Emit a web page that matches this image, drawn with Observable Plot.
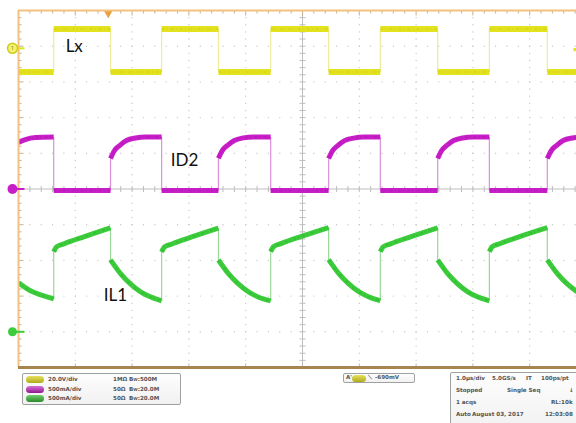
<!DOCTYPE html>
<html><head><meta charset="utf-8">
<script src="https://cdn.jsdelivr.net/npm/d3@7"></script>
<script src="https://cdn.jsdelivr.net/npm/@observablehq/plot@0.6"></script>
<style>
html,body{margin:0;padding:0;background:#fff;}
body{width:576px;height:423px;overflow:hidden;position:relative;font-family:"DejaVu Sans",sans-serif;}
#chart{position:absolute;left:0;top:0;}
.box{position:absolute;border:1px solid #a0a0a0;border-radius:2px;background:linear-gradient(#fdfdfd,#f1f1f1);}
.t{position:absolute;font-size:5.6px;color:#555;white-space:nowrap;font-weight:bold;line-height:7px;}
.pill{position:absolute;width:18px;height:7px;border-radius:4px;}
</style></head><body>
<div id="chart"></div>
<div id="info"></div>
<script>
// ---- channel setup ----
const channelNames = ["Lx", "ID2", "IL1"];
const channelColors = ["#e2e21e", "#c81ec8", "#3ccc3c"];
const textureColors = ["#c4c410", "#a010a0", "#26a626"];
const edgeColors = ["#ecec9a", "#dc90dc", "#9ad89a"];
const unitsPerDiv = [20, 500, 500];      // V/div, mA/div, mA/div
const zeroDiv = [3.94, 0, -4.0];         // ground marker position (divisions)

// ---- Lx (V) vs time (µs) ----
const lxTime = [-5.00,-4.38, -4.38,-3.38, -3.38,-2.48, -2.48,-1.48, -1.48,-0.56, -0.56,0.46, 0.46,1.37, 1.37,2.38, 2.38,3.29, 3.29,4.31, 4.31,5.00];
const lxVolt = [-13.2,-13.2, 10.9,10.9, -13.2,-13.2, 10.9,10.9, -13.2,-13.2, 10.9,10.9, -13.2,-13.2, 10.9,10.9, -13.2,-13.2, 10.9,10.9, -13.2,-13.2];

// ---- ID2 (mA) vs time (µs) ----
const id2Time = [-5.00,-4.88,-4.70,-4.38, -4.38,-3.38,
  -3.38,-3.31,-3.22,-3.10,-2.94,-2.76,-2.48, -2.48,-1.48,
  -1.48,-1.41,-1.32,-1.20,-1.04,-0.86,-0.56, -0.56,0.46,
  0.46,0.53,0.62,0.74,0.90,1.08,1.37, 1.37,2.38,
  2.38,2.45,2.54,2.66,2.82,3.00,3.29, 3.29,4.31,
  4.31,4.38,4.47,4.59,4.75,4.93,5.00];
const id2Curr = [651,693,721,728, -21,-21,
  427,539,609,679,714,728,728, -21,-21,
  430,540,612,680,716,730,730, -21,-21,
  427,537,608,678,713,727,727, -21,-21,
  428,539,610,679,715,729,729, -21,-21,
  427,538,609,679,714,728,728];

// ---- IL1 (mA) vs time (µs) ----
const il1Time = [-5.00,-4.79,-4.61,-4.38,
  -4.38,-4.33,-4.20,-3.85,-3.38,
  -3.38,-3.20,-3.03,-2.85,-2.68,-2.48,
  -2.48,-2.43,-2.30,-1.95,-1.48,
  -1.48,-1.30,-1.13,-0.95,-0.78,-0.56,
  -0.56,-0.51,-0.38,-0.03,0.46,
  0.46,0.64,0.81,0.99,1.16,1.37,
  1.37,1.42,1.55,1.90,2.38,
  2.38,2.56,2.73,2.91,3.08,3.29,
  3.29,3.34,3.47,3.82,4.31,
  4.31,4.49,4.66,4.84,5.00];
const il1Curr = [686,574,518,462,
  1120,1190,1232,1331,1457,
  1008,812,672,560,490,434,
  1118,1188,1230,1328,1452,
  1005,810,670,558,488,432,
  1122,1192,1234,1333,1460,
  1010,814,674,562,492,436,
  1120,1190,1232,1330,1456,
  1008,812,672,560,490,434,
  1121,1191,1233,1332,1458,
  1008,812,672,560,500];

// ---- on-screen labels ----
const labelText = ["Lx", "ID2", "IL1"];
const labelTime = [-4.17, -2.32, -3.50];
const labelDiv = [3.99, 0.80, -2.98];

// ---- scope screen ----
const divisions = [-5,-4,-3,-2,-1,0,1,2,3,4,5];
const minorStep = 0.2;
const triggerTime = -3.42;
const triggerLevel = -690; // mV on channel 1

const toDiv = (v, ch) => v / unitsPerDiv[ch] + zeroDiv[ch];
function build(times, values, ch) {
  const pts = [], edges = [];
  let seg = 0;
  for (let i = 0; i < times.length; i++) {
    if (i > 0 && times[i] === times[i-1]) {
      edges.push({t: times[i], d1: toDiv(values[i-1], ch), d2: toDiv(values[i], ch)});
      seg++;
    }
    pts.push({t: times[i], d: toDiv(values[i], ch), seg});
  }
  return {pts, edges};
}
const traces = [build(lxTime, lxVolt, 0), build(id2Time, id2Curr, 1), build(il1Time, il1Curr, 2)];

const minor = d3.range(-5, 5.0001, minorStep).map(v => +v.toFixed(2));
const gridDots = [];
for (const gx of divisions.filter(v => v !== 0 && Math.abs(v) !== 5))
  for (const m of minor) gridDots.push({x: gx, y: m});
for (const gy of divisions.filter(v => v !== 0 && Math.abs(v) !== 5))
  for (const m of minor) gridDots.push({x: m, y: gy});

const pxX = 56.8, pxY = 35.7;
const traceMarks = [];
traces.forEach((tr, ch) => {
  const curve = ch === 0 ? "linear" : "monotone-x";
  traceMarks.push(Plot.link(tr.edges, {x1: "t", x2: "t", y1: "d1", y2: "d2", stroke: edgeColors[ch], strokeWidth: 1.2, clip: true}));
  traceMarks.push(Plot.line(tr.pts, {x: "t", y: "d", z: "seg", stroke: channelColors[ch], strokeWidth: ch === 0 ? 6 : 5, strokeLinecap: "butt", curve, clip: true}));
  traceMarks.push(Plot.line(tr.pts, {x: "t", y: "d", z: "seg", stroke: textureColors[ch], strokeWidth: 2, strokeOpacity: 0.3, strokeDasharray: "3,2,1,3", strokeLinecap: "butt", curve, clip: true}));
});

const markerX = -5 - 6 / pxX;
const plot = Plot.plot({
  width: 576, height: 370,
  marginLeft: 18, marginRight: 0, marginTop: 10, marginBottom: 3,
  x: {domain: [-5, 5], range: [18, 586], axis: null},
  y: {domain: [-5, 5], range: [367, 10], axis: null},
  style: {background: "#fff", overflow: "visible"},
  marks: [
    Plot.dot(gridDots, {x: "x", y: "y", r: 0.7, fill: "#c8c8c8", clip: true}),
    Plot.ruleX([0], {stroke: "#bdbdbd", strokeWidth: 1}),
    Plot.ruleY([0], {stroke: "#bdbdbd", strokeWidth: 1}),
    Plot.link(minor, {x1: d => d, x2: d => d, y1: () => -3 / pxY, y2: () => 3 / pxY, stroke: "#bdbdbd"}),
    Plot.link(minor, {y1: d => d, y2: d => d, x1: () => -3 / pxX, x2: () => 3 / pxX, stroke: "#bdbdbd"}),
    // border ticks
    Plot.link(minor, {x1: d => d, x2: d => d, y1: () => 5, y2: d => 5 - (Number.isInteger(d) ? 5 : 3) / pxY, stroke: "#c8b090"}),
    Plot.link(minor, {y1: d => d, y2: d => d, x1: () => -5, x2: d => -5 + (Number.isInteger(d) ? 5 : 3) / pxX, stroke: "#c8b090"}),
    Plot.link(divisions, {x1: d => d, x2: d => d, y1: () => -5, y2: () => -5 + 4 / pxY, stroke: "#b8b8b8"}),
    ...traceMarks,
    // borders
    Plot.ruleY([5], {stroke: "#f2c27e", strokeWidth: 2}),
    Plot.ruleX([-5], {stroke: "#f2c27e", strokeWidth: 2}),
    Plot.ruleY([-5], {stroke: "#a8844f", strokeWidth: 3}),
    // trigger position marker
    Plot.dot([triggerTime], {x: d => d, y: () => 5 - 3 / pxY, symbol: "triangle", rotate: 180, r: 3, fill: "#e8a040"}),
    // trigger level marker
    Plot.link([triggerLevel], {x1: () => 4.77, x2: () => 5, y1: d => toDiv(d / 1000, 0), y2: d => toDiv(d / 1000, 0), stroke: "#e2e21e", strokeWidth: 3}),
    // channel ground markers
    Plot.link([0, 1, 2], {x1: () => markerX, x2: () => -5 + 6 / pxX, y1: ch => zeroDiv[ch], y2: ch => zeroDiv[ch], stroke: ch => channelColors[ch], strokeWidth: 2}),
    Plot.dot([0], {x: () => markerX, y: ch => zeroDiv[ch], r: 5, fill: "#f2f270", stroke: "#cccc20", strokeWidth: 1.5}),
    Plot.text([0], {x: () => markerX, y: ch => zeroDiv[ch], text: ch => String(ch + 1), fontSize: 6, fill: "#8a8a10"}),
    Plot.dot([1], {x: () => markerX, y: ch => zeroDiv[ch], r: 5, fill: channelColors[1]}),
    Plot.dot([2], {x: () => markerX, y: ch => zeroDiv[ch], r: 4.5, fill: channelColors[2]}),
    // labels
    Plot.text(labelText, {x: (d, i) => labelTime[i], y: (d, i) => labelDiv[i], text: d => d, textAnchor: "start", fontSize: 17, fontFamily: "Lato", fill: "#111"})
  ]
});
document.getElementById("chart").appendChild(plot);

// ---- info panel below the screen ----
const chanScale = ["20.0V/div", "500mA/div", "500mA/div"];
const chanTerm = ["1MΩ", "50Ω", "50Ω"];
const chanBw = ["500M", "20.0M", "20.0M"];
const pillColors = ["linear-gradient(#e6e060,#b0aa18)", "linear-gradient(#d870d8,#901890)", "linear-gradient(#70d070,#2a8a2a)"];
const trigText = ["A'", "⟍", "-690mV"];
const acqRows = [["1.0µs/div", "5.0GS/s", "IT", "100ps/pt"], ["Stopped", "Single Seq", "", "↓"], ["1 acqs", "", "RL:10k", ""], ["Auto", "August 03, 2017", "", "12:03:08"]];
const acqCols = [[5, 41, 75, 90], [5, 56, 0, 118], [5, 0, 100, 0], [5, 21, 0, 94]];

const info = document.getElementById("info");
let html = `<div class="box" style="left:22px;top:373px;width:157px;height:30px">`;
chanScale.forEach((s, i) => {
  const top = 2 + i * 9.5;
  html += `<div class="pill" style="left:3px;top:${top}px;background:${pillColors[i]}"></div>`;
  html += `<div class="t" style="left:25px;top:${top}px">${s}</div>`;
  html += `<div class="t" style="left:90px;top:${top}px">${chanTerm[i]}</div>`;
  html += `<div class="t" style="left:106px;top:${top}px">B<span style="font-size:4px">W</span>:${chanBw[i]}</div>`;
});
html += `</div>`;
html += `<div class="box" style="left:343px;top:373px;width:70px;height:8px">`;
html += `<div class="t" style="left:2px;top:0px">${trigText[0]}</div>`;
html += `<div class="pill" style="left:8px;top:0.5px;width:14px;height:7px;background:${pillColors[0]}"></div>`;
html += `<div class="t" style="left:24px;top:0px">${trigText[1]}</div>`;
html += `<div class="t" style="left:31px;top:0px">${trigText[2]}</div>`;
html += `</div>`;
html += `<div class="box" style="left:450px;top:372px;width:140px;height:60px">`;
acqRows.forEach((row, r) => {
  row.forEach((s, c) => {
    if (s) html += `<div class="t" style="left:${acqCols[r][c]}px;top:${2 + r * 12}px">${s}</div>`;
  });
});
html += `</div>`;
info.innerHTML = html;
</script>
</body></html>
